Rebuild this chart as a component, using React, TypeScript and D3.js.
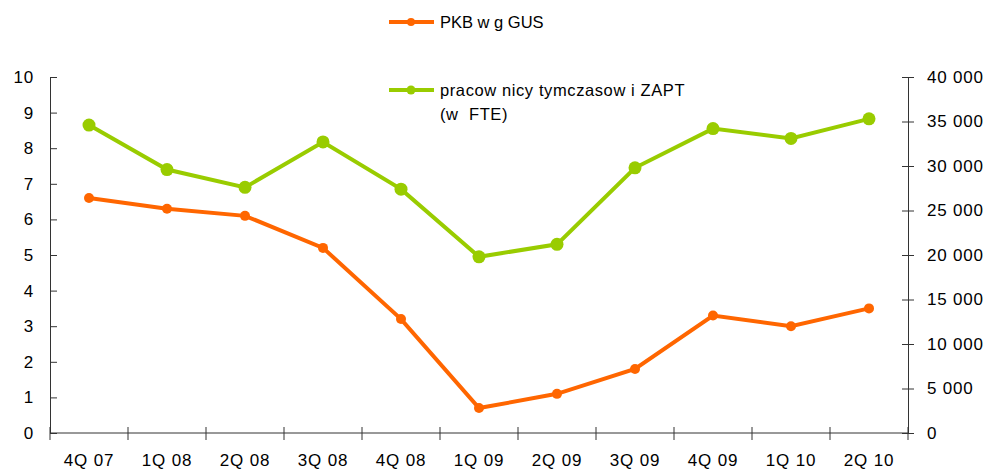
import React, { useEffect, useRef } from 'react';
import * as d3 from 'd3';

const quarters = ['4Q 07', '1Q 08', '2Q 08', '3Q 08', '4Q 08', '1Q 09', '2Q 09', '3Q 09', '4Q 09', '1Q 10', '2Q 10'];
const pkb = [6.6, 6.3, 6.1, 5.2, 3.2, 0.7, 1.1, 1.8, 3.3, 3.0, 3.5];
const workers = [34600, 29600, 27600, 32700, 27400, 19800, 21200, 29800, 34200, 33100, 35300];
const leftTicks = [0, 1, 2, 3, 4, 5, 6, 7, 8, 9, 10];
const rightTicks = [0, 5000, 10000, 15000, 20000, 25000, 30000, 35000, 40000];

const ORANGE = '#ff6600';
const GREEN = '#99cc00';

function App() {
    const svgRef = useRef<SVGSVGElement>(null);

    useEffect(() => {
        const svg = d3.select(svgRef.current);
        svg.selectAll('*').remove();

        const left = 50;
        const right = 908;
        const top = 77;
        const bottom = 433;
        const font = 'Liberation Sans, Arial, sans-serif';

        const x = d3.scaleBand().domain(quarters).range([left, right]);
        const yL = d3.scaleLinear().domain([0, 10]).range([bottom, top]);
        const yR = d3.scaleLinear().domain([0, 40000]).range([bottom, top]);
        const fmt = (v: number) => d3.format(',')(v).replace(/,/g, ' ');

        const axisColor = '#333';

        // left axis
        const gl = svg.append('g').attr('transform', `translate(${left},0)`)
            .call(d3.axisLeft(yL).tickValues(leftTicks).tickSize(7).tickPadding(9).tickSizeOuter(0));
        gl.selectAll('.tick line').attr('x2', 7);
        // right axis
        const gr = svg.append('g').attr('transform', `translate(${right},0)`)
            .call(d3.axisRight(yR).tickValues(rightTicks).tickFormat(d => fmt(+d)).tickSize(6).tickPadding(13).tickSizeOuter(0));
        gr.selectAll('.tick line').attr('x1', -6);
        // bottom axis
        const boundaries = quarters.map(q => x(q) as number).concat([right]);
        const gb = svg.append('g').attr('transform', `translate(0,${bottom})`);
        gb.append('line').attr('x1', left).attr('x2', right).attr('stroke', axisColor);
        gb.selectAll('line.tk').data(boundaries).join('line').attr('class', 'tk')
            .attr('x1', d => d).attr('x2', d => d).attr('y1', -6).attr('y2', 7).attr('stroke', axisColor);
        gb.selectAll('text').data(quarters).join('text')
            .attr('x', d => (x(d) as number) + x.bandwidth() / 2)
            .attr('y', 33)
            .attr('text-anchor', 'middle')
            .text(d => d);

        [gl, gr].forEach(g => {
            g.select('.domain').attr('stroke', axisColor);
            g.selectAll('.tick line').attr('stroke', axisColor);
        });
        svg.selectAll('text').attr('font-family', font).attr('font-size', 17)
            .attr('letter-spacing', 0.8).attr('fill', '#000');

        const cx = (i: number) => (x(quarters[i]) as number) + x.bandwidth() / 2;

        const lineR = d3.line<number>().x((d, i) => cx(i)).y(d => yR(d));
        svg.append('path').datum(workers).attr('d', lineR)
            .attr('fill', 'none').attr('stroke', GREEN).attr('stroke-width', 4);
        svg.selectAll('circle.g').data(workers).join('circle').attr('class', 'g')
            .attr('cx', (d, i) => cx(i)).attr('cy', d => yR(d)).attr('r', 6.5).attr('fill', GREEN);

        const lineL = d3.line<number>().x((d, i) => cx(i)).y(d => yL(d));
        svg.append('path').datum(pkb).attr('d', lineL)
            .attr('fill', 'none').attr('stroke', ORANGE).attr('stroke-width', 4);
        svg.selectAll('circle.o').data(pkb).join('circle').attr('class', 'o')
            .attr('cx', (d, i) => cx(i)).attr('cy', d => yL(d)).attr('r', 5).attr('fill', ORANGE);

        // legend
        const legend = [
            { color: ORANGE, r: 4, y: 22, ls: 0, lines: ['PKB w g GUS'] },
            { color: GREEN, r: 4.5, y: 90, ls: 0.6, lines: ['pracow nicy tymczasow i ZAPT', '(w  FTE)'] },
        ];
        legend.forEach(l => {
            const g = svg.append('g');
            g.append('line').attr('x1', 389).attr('x2', 434).attr('y1', l.y).attr('y2', l.y)
                .attr('stroke', l.color).attr('stroke-width', 4);
            g.append('circle').attr('cx', 411).attr('cy', l.y).attr('r', l.r).attr('fill', l.color);
            l.lines.forEach((t, i) => {
                g.append('text').attr('x', 440).attr('y', l.y + 6 + i * 24)
                    .attr('font-family', font).attr('font-size', 16.5).attr('fill', '#000')
                    .attr('letter-spacing', l.ls)
                    .style('white-space', 'pre').text(t);
            });
        });
    }, []);

    return (
        <svg ref={svgRef} width={988} height={470} style={{ position: 'absolute', left: 0, top: 0 }}></svg>
    );
}

export default App;
